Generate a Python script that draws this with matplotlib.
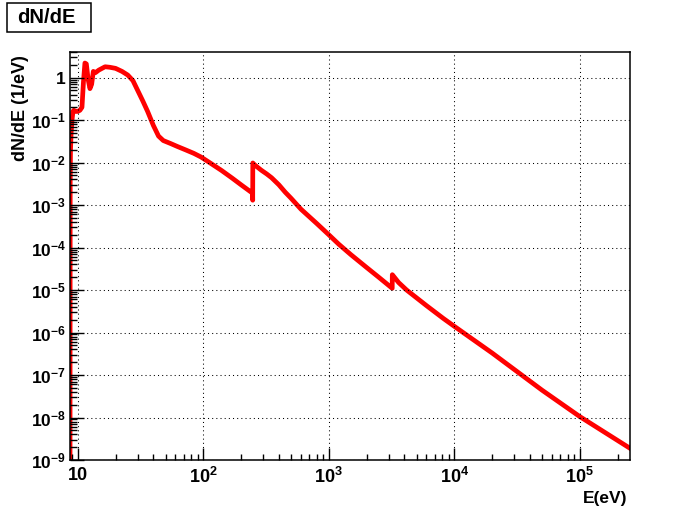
import numpy as np
import matplotlib
matplotlib.use("Agg")
import matplotlib.pyplot as plt
from matplotlib.ticker import LogLocator, FuncFormatter, NullFormatter
from matplotlib.patches import Rectangle

#%% data (E in eV, dN/dE in 1/eV)
energy = [8.67, 8.70, 8.75, 8.85, 9.0, 9.15, 9.3, 9.6, 10.0, 10.4, 10.8, 11.1,
          11.4, 11.7, 12.1, 12.5, 12.9, 13.3, 13.8, 14.7, 16.5, 18.0, 20.0,
          22.5, 25.0, 27.5, 30.0, 33.0, 36.0, 40.0, 44.0, 48.0, 55.0, 62.0,
          72.0, 84.0, 96.0, 114.0, 140.0, 170.0, 200.0, 247.0, 247.5, 248.0,
          255.0, 270.0, 290.0, 320.0, 350.0, 400.0, 450.0, 500.0, 600.0,
          800.0, 1000.0, 1200.0, 1500.0, 2000.0, 2500.0, 3200.0, 3206.0,
          3600.0, 4170.0, 6000.0, 8170.0, 1.0e4, 2.0e4, 5.0e4, 1.0e5, 2.5e5]
dnde = [1e-10, 3.5e-3, 2.0e-2, 5.0e-2, 1.0e-1, 1.6e-1, 1.7e-1, 1.6e-1, 1.6e-1,
        1.7e-1, 2.0e-1, 8.0e-1, 2.2, 2.1, 9.0e-1, 5.5e-1, 7.0e-1, 1.4, 1.3,
        1.5, 1.8, 1.75, 1.65, 1.4, 1.15, 8.5e-1, 5.0e-1, 2.8e-1, 1.6e-1,
        7.5e-2, 4.2e-2, 3.3e-2, 2.8e-2, 2.4e-2, 2.0e-2, 1.65e-2, 1.35e-2,
        9.7e-3, 6.5e-3, 4.3e-3, 3.0e-3, 1.9e-3, 1.3e-3, 9.8e-3, 9.0e-3,
        7.8e-3, 6.6e-3, 5.4e-3, 4.4e-3, 3.0e-3, 2.0e-3, 1.45e-3, 8.0e-4,
        3.7e-4, 2.0e-4, 1.2e-4, 6.8e-5, 3.4e-5, 2.0e-5, 1.1e-5, 2.3e-5,
        1.5e-5, 1.0e-5, 4.3e-6, 2.15e-6, 1.4e-6, 3.3e-7, 4.4e-8, 1.05e-8,
        1.9e-9]

title_txt = "dN/dE"
xlabel_txt = "E(eV)"
ylabel_txt = "dN/dE (1/eV)"

#%% style
plt.rcParams['font.family'] = ['Liberation Sans', 'DejaVu Sans']
plt.rcParams['font.weight'] = 'bold'
plt.rcParams['mathtext.fontset'] = 'custom'
plt.rcParams['mathtext.rm'] = 'Liberation Sans:bold'
plt.rcParams['mathtext.it'] = 'Liberation Sans:bold'
plt.rcParams['mathtext.bf'] = 'Liberation Sans:bold'
plt.rcParams['mathtext.default'] = 'rm'


def log_label(v, pos):
    e = int(round(np.log10(v)))
    if e == 0:
        return "1"
    if e == 1:
        return "10"
    return r"$10^{%d}$" % e


fig = plt.figure(figsize=(7.0, 5.12), dpi=100)
ax = fig.add_axes([0.1, 1 - 460 / 512, 0.8, (460 - 51.7) / 512])

ax.plot(energy, dnde, color='red', lw=3.4, solid_joinstyle='round')

ax.set_xscale('log')
ax.set_yscale('log')
ax.set_xlim(8.67, 2.51e5)
ax.set_ylim(1e-9, 4.07)

ax.xaxis.set_major_locator(LogLocator(base=10, numticks=20))
ax.yaxis.set_major_locator(LogLocator(base=10, numticks=20))
ax.xaxis.set_minor_locator(LogLocator(base=10, subs=np.arange(2, 10), numticks=20))
ax.yaxis.set_minor_locator(LogLocator(base=10, subs=np.arange(2, 10), numticks=20))
ax.xaxis.set_major_formatter(FuncFormatter(log_label))
ax.yaxis.set_major_formatter(FuncFormatter(log_label))
ax.xaxis.set_minor_formatter(NullFormatter())
ax.yaxis.set_minor_formatter(NullFormatter())

ax.tick_params(axis='both', which='both', direction='in', top=False, right=False,
               colors='black', width=1.0)
ax.tick_params(axis='x', which='major', length=8.6, labelsize=13, pad=5)
ax.tick_params(axis='x', which='minor', length=4.3)
ax.tick_params(axis='y', which='major', length=10, labelsize=12.5, pad=3)
ax.tick_params(axis='y', which='minor', length=5)

for s in ax.spines.values():
    s.set_linewidth(1.1)

ax.grid(True, which='major', color='black', lw=0.75, linestyle=(0, (1, 3)))
ax.set_axisbelow(False)

# title box
fig.add_artist(Rectangle((7.3 / 700, 1 - 31.7 / 512), 83.4 / 700, 29 / 512,
                         transform=fig.transFigure, fill=False, lw=1.1,
                         edgecolor='black'))
fig.text(46 / 700, 1 - 17.5 / 512, title_txt, ha='center', va='center',
         fontsize=14.5, fontweight='bold')

fig.text(627 / 700, 1 - 499 / 512, xlabel_txt, ha='right', va='center',
         fontsize=12.5, fontweight='bold')
fig.text(21 / 700, 1 - 55 / 512, ylabel_txt, ha='center', va='top',
         rotation=90, fontsize=13, fontweight='bold')

fig.savefig("out.png", dpi=100)
